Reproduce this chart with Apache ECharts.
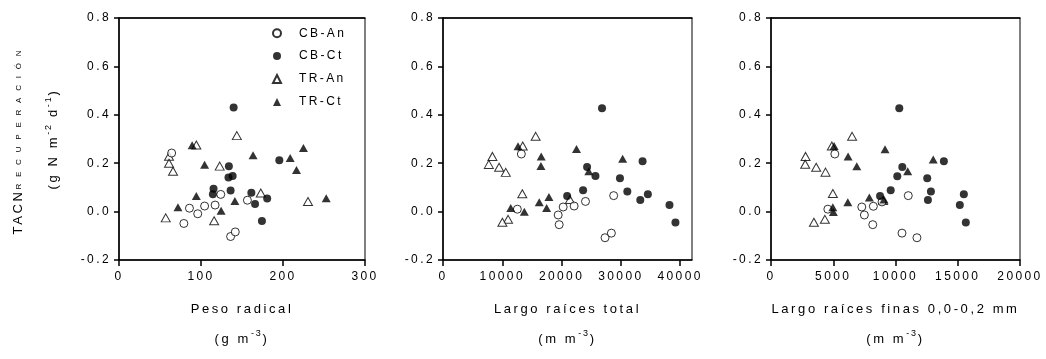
<!DOCTYPE html>
<html>
<head>
<meta charset="utf-8">
<script src="https://cdn.jsdelivr.net/npm/echarts@6/dist/echarts.min.js"></script>
<style>
html,body{margin:0;padding:0;background:#fff;}
#chart{width:1046px;height:359px;}
</style>
</head>
<body>
<div id="chart"></div>
<script>
// ---------------- DATA ----------------
var seriesNames = ['CB-An', 'CB-Ct', 'TR-An', 'TR-Ct'];
var yTicks = [-0.2, 0.0, 0.2, 0.4, 0.6, 0.8];

// Panel 1: Peso radical (g m-3)
var p1_xTicks = [0, 100, 200, 300];
var p1_CB_An = [[64.2,0.242],[79.1,-0.049],[85.9,0.014],[96,-0.009],[104.4,0.023],[117.2,0.027],[124.1,0.071],[136.1,-0.103],[141.8,-0.084],[156.6,0.047]];
var p1_CB_Ct = [[139.8,0.430],[134,0.187],[133.5,0.141],[138.6,0.147],[115.3,0.094],[114.5,0.072],[136.1,0.087],[161.4,0.078],[165.9,0.031],[180.7,0.054],[174.3,-0.039],[195.5,0.212]];
var p1_TR_An = [[57,-0.026],[61,0.229],[61,0.2],[65.9,0.167],[94.3,0.275],[122.8,0.188],[116,-0.038],[143.7,0.314],[172.9,0.077],[230.5,0.042]];
var p1_TR_Ct = [[71.9,0.018],[89.2,0.274],[94.3,0.064],[104.4,0.194],[124.5,0.004],[141.3,0.044],[163.5,0.233],[208.8,0.222],[216.5,0.172],[224.9,0.263],[252.7,0.055]];

// Panel 2: Largo raíces total (m m-3)
var p2_xTicks = [0, 10000, 20000, 30000, 40000];
var p2_CB_An = [[13216,0.238],[12538,0.010],[19429,-0.014],[19597,-0.054],[20269,0.019],[22118,0.023],[24034,0.042],[28790,0.066],[27328,-0.108],[28403,-0.089]];
var p2_CB_Ct = [[26824,0.427],[24303,0.184],[25714,0.147],[29849,0.138],[33664,0.208],[20941,0.064],[23630,0.088],[31092,0.083],[33277,0.048],[34555,0.072],[38202,0.027],[39210,-0.045]];
var p2_TR_An = [[15630,0.311],[13445,0.271],[8336,0.228],[7731,0.195],[9462,0.183],[10588,0.162],[13378,0.074],[10975,-0.032],[10017,-0.044],[21400,0.050]];
var p2_TR_Ct = [[12655,0.270],[16571,0.228],[16521,0.188],[22521,0.259],[11429,0.015],[13714,-0.001],[16235,0.039],[17866,0.060],[17479,0.015],[30303,0.218],[24588,0.167]];

// Panel 3: Largo raíces finas 0,0-0,2 mm (m m-3)
var p3_xTicks = [0, 5000, 10000, 15000, 20000];
var p3_CB_An = [[5128,0.238],[4567,0.010],[7292,0.019],[7500,-0.014],[8173,-0.054],[8221,0.022],[8918,0.040],[11026,0.066],[10521,-0.089],[11723,-0.108]];
var p3_CB_Ct = [[10304,0.427],[10545,0.184],[10144,0.146],[12548,0.138],[13886,0.208],[8758,0.064],[9615,0.088],[12845,0.083],[12604,0.048],[15489,0.072],[15168,0.027],[15649,-0.045]];
var p3_TR_An = [[6514,0.311],[4886,0.271],[2776,0.228],[2748,0.196],[3630,0.183],[4378,0.163],[4968,0.075],[3446,-0.044],[4327,-0.032],[9000,0.046]];
var p3_TR_Ct = [[5072,0.271],[6194,0.228],[6891,0.187],[9159,0.258],[13029,0.215],[10978,0.167],[4968,0.018],[5010,-0.002],[6170,0.039],[7901,0.058],[9080,0.050]];

var xNames = ['Peso radical', 'Largo raíces total', 'Largo raíces finas 0,0-0,2 mm'];
var xUnits = ['(g m', '(m m', '(m m'];

// --------------- letter spacing (text stays real text) ---------------
(function () {
  var proto = window.CanvasRenderingContext2D && CanvasRenderingContext2D.prototype;
  if (!proto || !('letterSpacing' in proto)) return;
  var d = Object.getOwnPropertyDescriptor(proto, 'font');
  if (!d || !d.set) return;
  Object.defineProperty(proto, 'font', {
    configurable: true,
    enumerable: d.enumerable,
    get: function () { return d.get.call(this); },
    set: function (v) {
      d.set.call(this, v);
      var m = /([\d.]+)px/.exec(v);
      var s = 0;
      if (m) {
        var fs = parseFloat(m[1]);
        s = fs <= 8 ? 6.8 : fs * 0.2;
      }
      this.letterSpacing = s.toFixed(2) + 'px';
    }
  });
})();

var FONT = '"Liberation Sans", Arial, sans-serif';
var chart = echarts.init(document.getElementById('chart'), null, {renderer: 'canvas'});

var grids = [
  {left: 116, top: 18, width: 249, height: 250},
  {left: 443, top: 18, width: 249, height: 250},
  {left: 771, top: 18, width: 249, height: 250}
];
var xMax = [300, 42000, 20000];
var xTickSets = [p1_xTicks, p2_xTicks, p3_xTicks];
var panels = [
  [p1_CB_An, p1_CB_Ct, p1_TR_An, p1_TR_Ct],
  [p2_CB_An, p2_CB_Ct, p2_TR_An, p2_TR_Ct],
  [p3_CB_An, p3_CB_Ct, p3_TR_An, p3_TR_Ct]
];

var titleRich = {
  t: {fontSize: 13, lineHeight: 30, fontFamily: FONT, color: '#000'},
  sup: {fontSize: 9, lineHeight: 30, fontFamily: FONT, color: '#000', padding: [0, 0, 10, 0]}
};

var gridOpts = [], xAxes = [], yAxes = [], series = [];
for (var i = 0; i < 3; i++) {
  gridOpts.push(Object.assign({show: true, borderColor: '#000', borderWidth: 1, backgroundColor: 'transparent', containLabel: false}, grids[i]));
  xAxes.push({
    type: 'value', gridIndex: i, min: 0, max: xMax[i],
    interval: xTickSets[i][1] - xTickSets[i][0],
    axisLine: {show: true, onZero: false, lineStyle: {color: '#000', width: 1.5}},
    axisTick: {show: true, inside: false, length: 6, lineStyle: {color: '#000', width: 1.5}, customValues: xTickSets[i]},
    axisLabel: {show: true, margin: 9, fontSize: 12, fontFamily: FONT, color: '#000', customValues: xTickSets[i],
      formatter: function (v) { return String(Math.round(v)); }},
    splitLine: {show: false},
    name: '{t|' + xNames[i] + '}\n{t|' + xUnits[i] + '}{sup|-3}{t|)}',
    nameLocation: 'middle', nameGap: 34,
    nameTextStyle: {rich: titleRich, lineHeight: 30, fontSize: 13, fontFamily: FONT, color: '#000'}
  });
  var ya = {
    type: 'value', gridIndex: i, min: -0.2, max: 0.8, interval: 0.2,
    axisLine: {show: true, onZero: false, lineStyle: {color: '#000', width: 1.5}},
    axisTick: {show: true, inside: false, length: 5, lineStyle: {color: '#000', width: 1.5}, customValues: yTicks},
    axisLabel: {show: true, margin: 8, fontSize: 12, fontFamily: FONT, color: '#000', customValues: yTicks,
      formatter: function (v) { return v.toFixed(1); }},
    splitLine: {show: false}
  };
  if (i === 0) {
    ya.name = '{t|TACN}{s|RECUPERACIÓN}\n{t|(g N m}{sup|-2}{t| d}{sup|-1}{t|)}';
    ya.nameLocation = 'middle';
    ya.nameGap = 48;
    ya.nameTextStyle = {
      lineHeight: 35, fontSize: 13, fontFamily: FONT, color: '#000',
      rich: {
        t: {fontSize: 13, lineHeight: 35, fontFamily: FONT, color: '#000'},
        s: {fontSize: 8, lineHeight: 35, fontFamily: FONT, color: '#000'},
        sup: {fontSize: 9, lineHeight: 35, fontFamily: FONT, color: '#000', padding: [0, 0, 10, 0]}
      }
    };
  }
  yAxes.push(ya);

  var styles = [
    {symbol: 'circle', symbolSize: 8, itemStyle: {color: '#fff', borderColor: '#000', borderWidth: 1}},
    {symbol: 'circle', symbolSize: 8, itemStyle: {color: '#000', borderColor: '#000', borderWidth: 0}},
    {symbol: 'triangle', symbolSize: [9, 8], itemStyle: {color: '#fff', borderColor: '#000', borderWidth: 1}},
    {symbol: 'triangle', symbolSize: [9, 8], itemStyle: {color: '#000', borderColor: '#000', borderWidth: 0}}
  ];
  var order = [2, 0, 1, 3];
  for (var k = 0; k < 4; k++) {
    var j = order[k];
    series.push({
      type: 'scatter', name: seriesNames[j], xAxisIndex: i, yAxisIndex: i,
      data: panels[i][j], symbol: styles[j].symbol, symbolSize: styles[j].symbolSize,
      itemStyle: styles[j].itemStyle, emphasis: {disabled: true}, silent: true
    });
  }
}
// top frame lines (thick like the reference)
for (var g = 0; g < 3; g++) {
  xAxes.push({
    type: 'value', gridIndex: g, position: 'top', min: 0, max: xMax[g],
    axisLine: {show: true, onZero: false, lineStyle: {color: '#000', width: 1.5}},
    axisTick: {show: false}, axisLabel: {show: false}, splitLine: {show: false}
  });
}

chart.setOption({
  animation: false,
  backgroundColor: '#fff',
  textStyle: {fontFamily: FONT},
  legend: {
    show: true, orient: 'vertical', left: 267, top: 21,
    data: seriesNames, itemWidth: 8, itemHeight: 8, itemGap: 8.5,
    selectedMode: false,
    textStyle: {fontSize: 12, fontFamily: FONT, color: '#000', lineHeight: 14, padding: [0, 0, 0, 13]}
  },
  grid: gridOpts,
  xAxis: xAxes,
  yAxis: yAxes,
  series: series
});
</script>
</body>
</html>
